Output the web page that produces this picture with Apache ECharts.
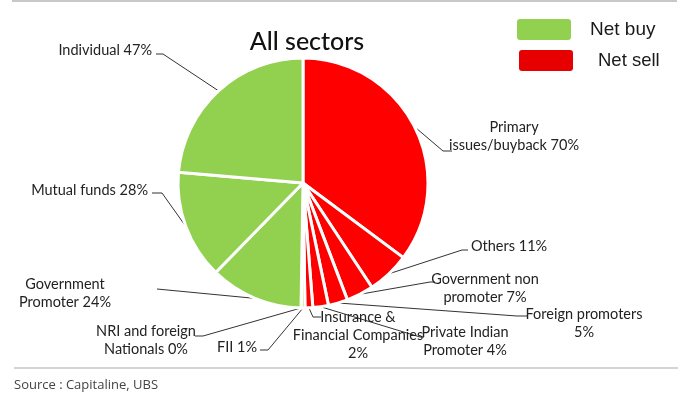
<!DOCTYPE html>
<html>

<head>
  <meta charset="utf-8">
  <title>All sectors</title>
  <script src="https://cdn.jsdelivr.net/npm/echarts@6/dist/echarts.min.js"></script>
  <style>
    html, body { margin: 0; padding: 0; background: #fff; }
  </style>
</head>

<body>
  <div id="main" style="width: 687px;height:397px;"></div>
  <script type="text/javascript">
    // data, clockwise from 12 o'clock
    var sectors = ['Primary issues/buyback', 'Others', 'Government non promoter', 'Foreign promoters',
      'Private Indian Promoter', 'Insurance & Financial Companies', 'FII', 'NRI and foreign Nationals',
      'Government Promoter', 'Mutual funds', 'Individual'];
    var shares = [70, 11, 7, 5, 4, 2, 1, 0, 24, 28, 47];
    var sides = ['sell', 'sell', 'sell', 'sell', 'sell', 'sell', 'buy', 'buy', 'buy', 'buy', 'buy'];
    var labelTexts = ['Primary\nissues/buyback 70%', 'Others 11%', 'Government non\npromoter 7%',
      'Foreign promoters\n5%', 'Private Indian\nPromoter 4%', 'Insurance &\nFinancial Companies\n2%',
      'FII 1%', 'NRI and foreign\nNationals 0%', 'Government\nPromoter 24%', 'Mutual funds 28%', 'Individual 47%'];
    var legendNames = ['Net buy', 'Net sell'];

    var sideColor = { buy: '#92d050', sell: '#ff0000' };
    var FONT = 'Lato, "Liberation Sans", sans-serif';

    // where each label sits and how its leader bends (x, y, align, elbow, end)
    var labelPos = [
      { x: 514, y: 136, align: 'center', pts: [[443, 151], [452, 151]] },
      { x: 471, y: 246, align: 'left', pts: [[462, 250], [468, 250]] },
      { x: 485, y: 288, align: 'center', pts: [[430, 282], [435, 282]] },
      { x: 584, y: 323, align: 'center', pts: [[517, 316], [528, 316]] },
      { x: 465, y: 341, align: 'center', pts: [[420, 337], [424, 337]] },
      { x: 358, y: 335, align: 'center', pts: [[313, 317], [321, 317]] },
      { x: 257, y: 347, align: 'right', pts: [[268, 350], [260, 350]] },
      { x: 146, y: 340, align: 'center', pts: [[203, 336], [195, 336]] },
      { x: 65, y: 293, align: 'center', pts: [[157, 289], [157, 289]] },
      { x: 148, y: 190, align: 'right', pts: [[162, 193], [152, 193]] },
      { x: 152, y: 50, align: 'right', pts: [[163, 54], [156, 54]] }
    ];

    var pieData = [];
    sectors.forEach(function (name, i) {
      pieData.push({
        name: name,
        value: shares[i],
        itemStyle: { color: sideColor[sides[i]] },
        label: { formatter: labelTexts[i] }
      });
    });

    var myChart = echarts.init(document.getElementById('main'));
    myChart.setOption({
      backgroundColor: '#fff',
      animation: false,
      series: [{
        type: 'pie',
        center: [303, 183],
        radius: 125,
        startAngle: 90,
        clockwise: true,
        avoidLabelOverlap: false,
        itemStyle: { borderColor: '#fff', borderWidth: 3 },
        label: {
          show: true,
          position: 'outside',
          color: '#222',
          fontFamily: FONT,
          fontSize: 14.5,
          lineHeight: 18
        },
        labelLine: {
          show: true,
          length: 10,
          length2: 10,
          lineStyle: { color: '#333', width: 1 }
        },
        labelLayout: function (params) {
          var p = labelPos[params.dataIndex];
          var out = { x: p.x, y: p.y, align: p.align, verticalAlign: 'middle' };
          if (params.labelLinePoints && params.labelLinePoints[0]) {
            out.labelLinePoints = [params.labelLinePoints[0], p.pts[0], p.pts[1]];
          }
          return out;
        },
        emphasis: { disabled: true },
        data: pieData
      }],
      graphic: [
        { type: 'line', shape: { x1: 12, y1: 1, x2: 677, y2: 1 }, style: { stroke: '#c8c8c8', lineWidth: 2 } },
        { type: 'line', shape: { x1: 14, y1: 368, x2: 678, y2: 368 }, style: { stroke: '#d4d4d4', lineWidth: 2 } },
        {
          type: 'text', x: 307, y: 42,
          style: { text: 'All sectors', fill: '#111', font: '500 25px ' + FONT, textAlign: 'center', textVerticalAlign: 'middle' }
        },
        { type: 'rect', shape: { x: 517, y: 19, width: 54, height: 21, r: 3 }, style: { fill: '#92d050' } },
        { type: 'rect', shape: { x: 519, y: 50, width: 54, height: 21, r: 3 }, style: { fill: '#e60000' } },
        {
          type: 'text', x: 590, y: 30,
          style: { text: legendNames[0], fill: '#1a1a1a', font: '19px "Liberation Sans", sans-serif', textVerticalAlign: 'middle' }
        },
        {
          type: 'text', x: 598, y: 61,
          style: { text: legendNames[1], fill: '#1a1a1a', font: '18.5px "Liberation Sans", sans-serif', textVerticalAlign: 'middle' }
        },
        {
          type: 'text', x: 14, y: 385,
          style: { text: 'Source : Capitaline, UBS', fill: '#444', font: '13px "Open Sans", sans-serif', textVerticalAlign: 'middle' }
        }
      ]
    });
  </script>
</body>

</html>
